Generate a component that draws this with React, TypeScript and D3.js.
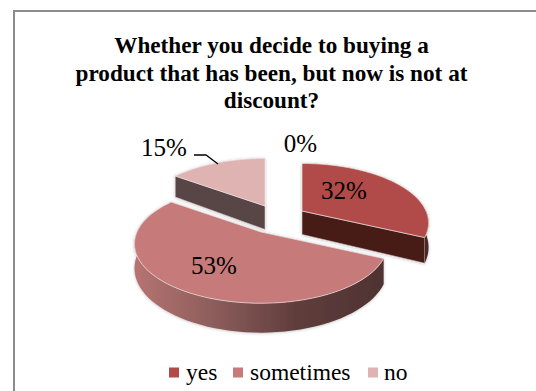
import React from "react";
import * as d3 from "d3";

const categories = ["yes", "sometimes", "no"];
const shares = [32, 53, 15];
const emptyShareLabel = "0%";
const titleLines = [
  "Whether you decide to buying a",
  "product that has been, but now is not at",
  "discount?",
];
const topColors = ["#B04B48", "#C67A79", "#DFB3B2"];
const cutColors = ["#461C19", "#5A3A38", "#594544"];

const W = 536;
const H = 391;
const RX = 124;
const RY = 57;
const PERSPECTIVE = 0.2;
const DEPTH = 23.5;
const SERIF = "'Liberation Serif', serif";

// Where each exploded slice has its apex, and where its percentage sits.
const apexes: [number, number][] = [
  [302, 211],
  [261, 232],
  [265, 206],
];
const labelSpots: [number, number][] = [
  [344, 199],
  [214, 274],
  [164, 156],
];

const slices = d3
  .pie<number>()
  .sort(null)
  .startAngle(0)
  .endAngle(2 * Math.PI)(shares);

const colorOf = d3.scaleOrdinal<string, string>().domain(categories).range(topColors);
const cutOf = d3.scaleOrdinal<string, string>().domain(categories).range(cutColors);

const scaleAt = (t: number) => 1 / (1 + PERSPECTIVE * Math.cos(t));
const rimPoint = (apex: [number, number], t: number, drop = 0): [number, number] => {
  const s = scaleAt(t);
  return [
    apex[0] + RX * Math.sin(t) * s,
    apex[1] - RY * Math.cos(t) * s + drop * DEPTH * s,
  ];
};
const rim = (apex: [number, number], a: number, b: number, drop = 0) =>
  d3.range(0, 61).map((i) => rimPoint(apex, a + ((b - a) * i) / 60, drop));

const line = d3.line();

function App() {
  const legendX = [169, 233, 368];
  const legendTextX = [186, 250, 384];
  return (
    <svg
      width={W}
      height={H}
      viewBox={`0 0 ${W} ${H}`}
      style={{ position: "absolute", left: 0, top: 0, background: "#fff" }}
      fontFamily={SERIF}
    >
      <defs>
        <linearGradient id="rimShade" gradientUnits="userSpaceOnUse" x1="132" x2="386" y1="0" y2="0">
          <stop offset="0" stopColor="#B87472" />
          <stop offset="0.3" stopColor="#8F5F5D" />
          <stop offset="0.65" stopColor="#5F3D3B" />
          <stop offset="1" stopColor="#4E3232" />
        </linearGradient>
        <linearGradient id="yesRimShade" gradientUnits="userSpaceOnUse" x1="420" x2="430" y1="0" y2="0">
          <stop offset="0" stopColor="#3F1C19" />
          <stop offset="1" stopColor="#52302D" />
        </linearGradient>
        <filter id="softShadow" x="-10%" y="-10%" width="120%" height="120%">
          <feDropShadow dx="0" dy="0.5" stdDeviation="1.5" floodColor="#000" floodOpacity="0.25" />
        </filter>
      </defs>

      <path d="M14 391 V11 H536" fill="none" stroke="#8C8C8C" strokeWidth={2} />

      <g textAnchor="middle" fontWeight="bold" fontSize={23.2} fill="#000">
        {titleLines.map((t, i) => (
          <text key={t} x={271.5} y={53 + i * 27.5}>
            {t}
          </text>
        ))}
      </g>

      {/* Back slice first, then the left one, with the large front slice on top. */}
      {[0, 2, 1].map((i) => {
        const slice = slices[i];
        const cat = categories[i];
        const apex = apexes[i];
        const a = slice.startAngle;
        const b = slice.endAngle;
        const top = [apex, ...rim(apex, a, b)] as [number, number][];

        // The radial cut that faces the viewer: the far end for "yes", the near end for "no".
        const cutAngle = i === 0 ? b : a;
        const cut: [number, number][] = [
          apex,
          rimPoint(apex, cutAngle),
          rimPoint(apex, cutAngle, 1),
          [apex[0], apex[1] + DEPTH],
        ];

        // The outer rim wall shows only along the near half of the ellipse.
        const wallFrom = Math.max(a, Math.PI * 0.5);
        const wallTo = Math.min(b, Math.PI * 1.62);
        const wall =
          wallTo > wallFrom
            ? [...rim(apex, wallFrom, wallTo), ...rim(apex, wallFrom, wallTo, 1).reverse()]
            : null;

        return (
          <g key={cat} filter="url(#softShadow)">
            {i !== 1 && (
              <path d={line(cut) + "Z"} fill={cutOf(cat)} stroke="#D8CFCE" strokeWidth={0.6} />
            )}
            {wall && (
              <path
                d={line(wall as [number, number][]) + "Z"}
                fill={i === 1 ? "url(#rimShade)" : "url(#yesRimShade)"}
              />
            )}
            <path d={line(top) + "Z"} fill={colorOf(cat)} stroke="#E9E0E0" strokeWidth={0.7} />
          </g>
        );
      })}

      <path d="M194 155 H206 L218 164" fill="none" stroke="#000" strokeWidth={1.3} />

      <g textAnchor="middle" fontSize={25} fill="#000">
        {shares.map((v, i) => (
          <text key={categories[i]} x={labelSpots[i][0]} y={labelSpots[i][1]}>
            {v}%
          </text>
        ))}
        <text x={300.5} y={152}>
          {emptyShareLabel}
        </text>
      </g>

      {categories.map((c, i) => (
        <g key={c}>
          <rect x={legendX[i]} y={367.5} width={10} height={10} fill={topColors[i]} />
          <text x={legendTextX[i]} y={380} fontSize={23.5} fill="#000">
            {c}
          </text>
        </g>
      ))}
    </svg>
  );
}

export default App;
